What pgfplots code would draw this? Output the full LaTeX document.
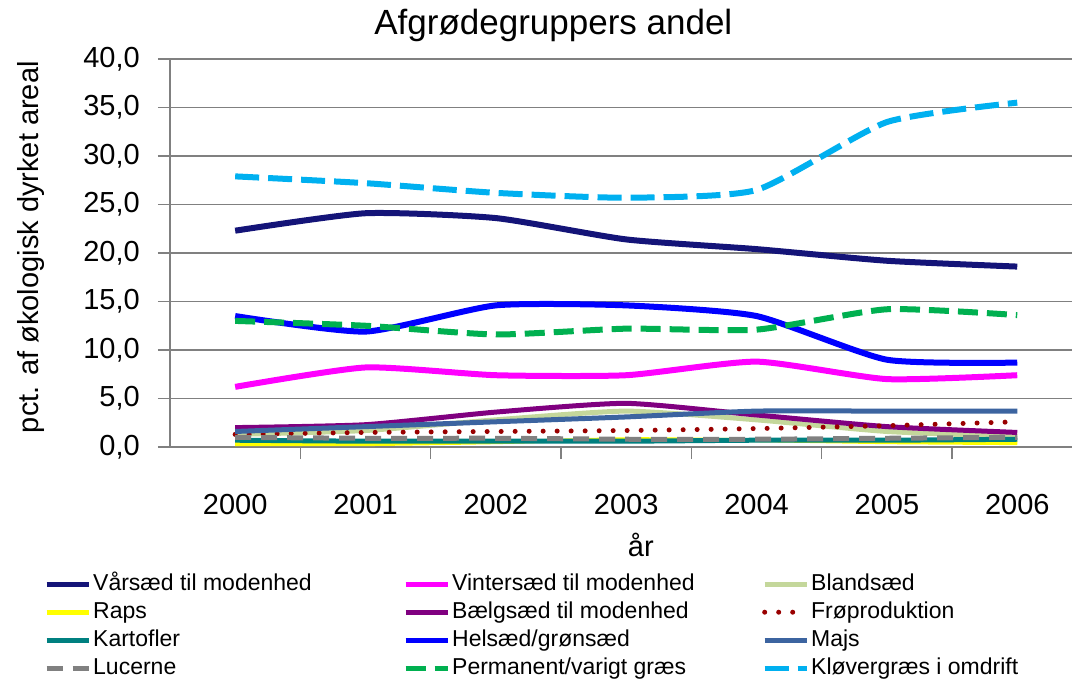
\documentclass[border=0pt]{standalone}
\usepackage{fontspec}
\setmainfont{Liberation Sans}
\usepackage{pgfplots}
\pgfplotsset{compat=1.18}
\definecolor{axgray}{RGB}{128,128,128}
\definecolor{cVar}{RGB}{20,20,120}
\definecolor{cVin}{RGB}{255,0,255}
\definecolor{cBla}{RGB}{196,215,155}
\definecolor{cRap}{RGB}{255,255,0}
\definecolor{cBae}{RGB}{128,0,128}
\definecolor{cFro}{RGB}{153,0,0}
\definecolor{cKar}{RGB}{0,128,128}
\definecolor{cHel}{RGB}{0,0,255}
\definecolor{cMaj}{RGB}{60,100,160}
\definecolor{cLuc}{RGB}{128,128,128}
\definecolor{cPer}{RGB}{0,176,80}
\definecolor{cKlo}{RGB}{0,176,240}
\begin{document}
\begin{tikzpicture}[x=1pt,y=1pt]
\path[use as bounding box] (0,0) rectangle (1072,686);
\begin{axis}[
  at={(170pt,239pt)}, anchor=south west,
  scale only axis, width=902pt, height=388pt,
  xmin=-0.5, xmax=6.42, ymin=0, ymax=40,
  clip=false,
  axis lines=left, axis line style={-, draw=axgray, line width=1.5pt},
  ymajorgrids, grid style={draw=axgray, line width=1.5pt},
  ytick={0,5,...,40},
  xtick={0.5,1.5,2.5,3.5,4.5,5.5}, xticklabels={},
  extra x ticks={0,1,2,3,4,5,6},
  extra x tick labels={2000,2001,2002,2003,2004,2005,2006},
  extra x tick style={major tick length=0pt},
  tick align=outside, major tick length=12pt,
  tick style={draw=axgray, line width=1.5pt},
  tick label style={font=\fontsize{29}{34}\selectfont, inner sep=0pt},
  xticklabel style={anchor=north, yshift=-47pt},
  yticklabel style={anchor=east, xshift=-18pt},
  /pgf/number format/.cd, fixed, fixed zerofill, precision=1, use comma, assume math mode=true,
  /pgfplots/.cd,
  title={Afgrødegruppers andel},
  title style={at={(axis description cs:0.425,1.048)}, anchor=base, font=\fontsize{35}{40}\selectfont, inner sep=0pt},
  xlabel={år},
  xlabel style={at={(axis description cs:0.522,-0.2835)}, anchor=base, font=\fontsize{29}{34}\selectfont, inner sep=0pt},
  ylabel={pct. af økologisk dyrket areal},
  ylabel style={at={(axis description cs:-0.154,0.515)}, anchor=center, font=\fontsize{29}{34}\selectfont, inner sep=0pt},
  legend columns=3,
  legend cell align=left,
  legend style={at={(axis description cs:-0.1397,-0.317)}, anchor=north west,
    draw=none, fill=none, inner sep=0pt, row sep=0pt, column sep=0pt,
    font=\fontsize{23}{27}\selectfont,
    nodes={inner sep=2pt, text height=18pt, text depth=6pt},
    cells={anchor=west}},
  legend image code/.code={\draw[#1, line width=5pt] (0pt,0pt) -- (42pt,0pt);},
  ser/.style={line width=6pt, smooth, tension=0.35, line join=round},
]
\addplot[ser, cVar] coordinates {(0,22.3)(1,24.1)(2,23.6)(3,21.4)(4,20.4)(5,19.2)(6,18.6)};
\addlegendentry{\makebox[308pt][l]{Vårsæd til modenhed}}
\addplot[ser, cVin] coordinates {(0,6.2)(1,8.2)(2,7.4)(3,7.4)(4,8.8)(5,7.0)(6,7.4)};
\addlegendentry{\makebox[308pt][l]{Vintersæd til modenhed}}
\addplot[ser, cBla, line width=5pt] coordinates {(0,1.3)(1,1.7)(2,2.8)(3,3.7)(4,2.8)(5,1.6)(6,1.1)};
\addlegendentry{\makebox[308pt][l]{Blandsæd}}
\addplot[ser, cRap, line width=4pt] coordinates {(0,0.3)(1,0.3)(2,0.5)(3,0.8)(4,0.7)(5,0.5)(6,0.4)};
\addlegendentry{\makebox[308pt][l]{Raps}}
\addplot[ser, cBae, line width=5pt] coordinates {(0,2.0)(1,2.3)(2,3.6)(3,4.5)(4,3.3)(5,2.1)(6,1.5)};
\addlegendentry{\makebox[308pt][l]{Bælgsæd til modenhed}}
\addplot[ser, cFro, line width=5pt, line cap=round, dash pattern=on 0pt off 14pt] coordinates {(0,1.3)(1,1.5)(2,1.6)(3,1.7)(4,1.9)(5,2.2)(6,2.6)};
\addlegendentry{\makebox[308pt][l]{Frøproduktion}}
\addplot[ser, cKar, line width=5pt] coordinates {(0,0.7)(1,0.6)(2,0.6)(3,0.6)(4,0.7)(5,0.7)(6,0.8)};
\addlegendentry{\makebox[308pt][l]{Kartofler}}
\addplot[ser, cHel] coordinates {(0,13.5)(1,11.9)(2,14.6)(3,14.6)(4,13.5)(5,9.0)(6,8.7)};
\addlegendentry{\makebox[308pt][l]{Helsæd/grønsæd}}
\addplot[ser, cMaj, line width=5pt] coordinates {(0,1.6)(1,2.1)(2,2.6)(3,3.1)(4,3.7)(5,3.7)(6,3.7)};
\addlegendentry{\makebox[308pt][l]{Majs}}
\addplot[ser, cLuc, line width=5pt, dash pattern=on 16pt off 10pt] coordinates {(0,1.0)(1,0.9)(2,0.9)(3,0.8)(4,0.8)(5,0.9)(6,1.0)};
\addlegendentry{\makebox[308pt][l]{Lucerne}}
\addplot[ser, cPer, dash pattern=on 20pt off 9pt] coordinates {(0,13.0)(1,12.5)(2,11.6)(3,12.2)(4,12.1)(5,14.2)(6,13.6)};
\addlegendentry{\makebox[308pt][l]{Permanent/varigt græs}}
\addplot[ser, cKlo, dash pattern=on 24pt off 9pt] coordinates {(0,27.9)(1,27.2)(2,26.2)(3,25.7)(4,26.5)(5,33.5)(6,35.5)};
\addlegendentry{\makebox[308pt][l]{Kløvergræs i omdrift}}
\end{axis}
\end{tikzpicture}
\end{document}
